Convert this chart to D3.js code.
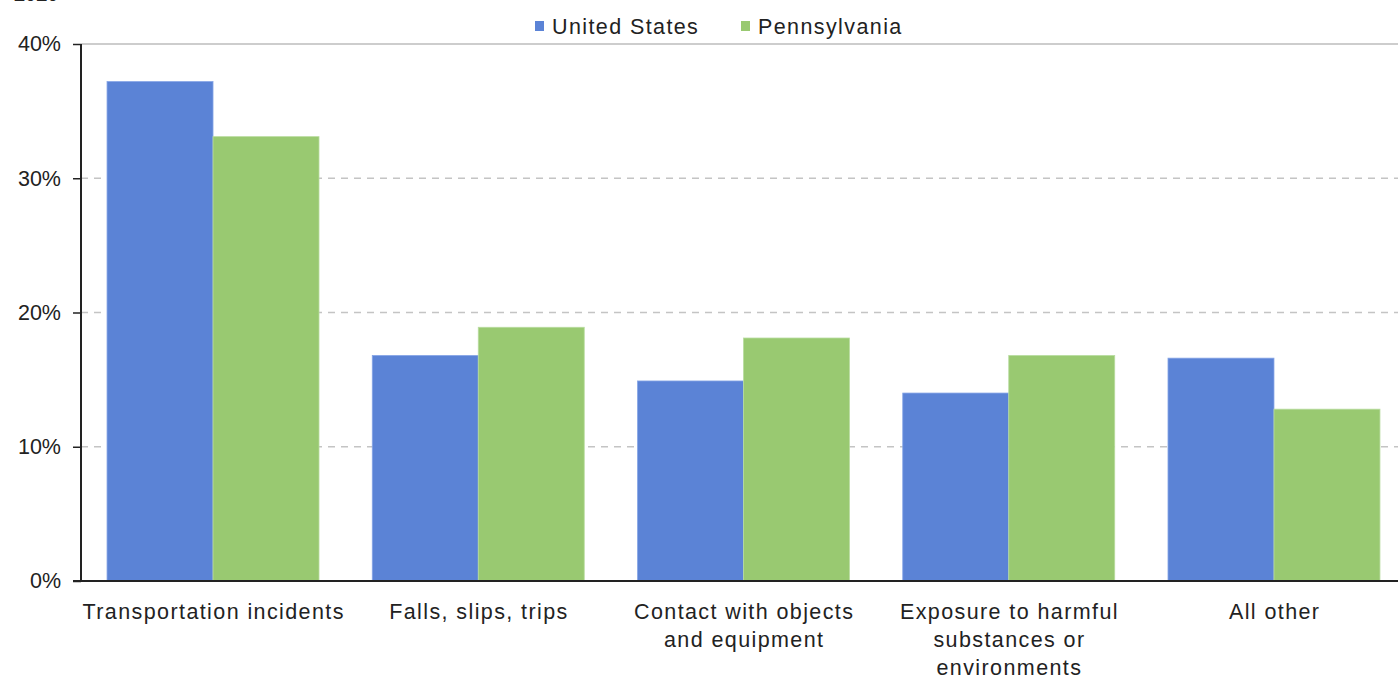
<!DOCTYPE html>
<html>
<head>
<meta charset="utf-8">
<script src="https://cdn.jsdelivr.net/npm/d3@7"></script>
<style>
html,body{margin:0;padding:0;background:#fff;overflow:hidden;}
text{font-family:"Liberation Sans",Arial,sans-serif;fill:#222;}
</style>
</head>
<body>
<svg id="chart" width="1398" height="677"></svg>
<script>
const categories = [
  ["Transportation incidents"],
  ["Falls, slips, trips"],
  ["Contact with objects", "and equipment"],
  ["Exposure to harmful", "substances or", "environments"],
  ["All other"]
];
const seriesNames = ["United States", "Pennsylvania"];
const usValues = [37.2, 16.8, 14.9, 14.0, 16.6];
const paValues = [33.1, 18.9, 18.1, 16.8, 12.8];
const yTicks = [0, 10, 20, 30, 40];
const colors = ["#5b83d6", "#99c971"];

const svg = d3.select("#chart");
const mLeft = 81, mTop = 44, mBottom = 581;
const bandStart = 80.4, bandEnd = 1406.6;
const fs = 21.5, ls = "1.4px";

// cut-off title remnant at top
svg.append("text").attr("x", 14).attr("y", 1).attr("font-size", 20).attr("font-weight", "bold").text("2020");

const x0 = d3.scaleBand().domain(d3.range(categories.length)).range([bandStart, bandEnd])
  .paddingInner(0.2008).paddingOuter(0.1004);
const x1 = d3.scaleBand().domain([0, 1]).range([0, x0.bandwidth()]);
const y = d3.scaleLinear().domain([0, 40]).range([mBottom, mTop]);

// gridlines
svg.append("g").selectAll("line").data(yTicks.filter(t => t > 0 && t < 40)).join("line")
  .attr("x1", mLeft).attr("x2", 1398).attr("y1", d => y(d)).attr("y2", d => y(d))
  .attr("stroke", "#c4c4c4").attr("stroke-width", 1.3).attr("stroke-dasharray", "7,6");
// top border
svg.append("line").attr("x1", mLeft).attr("x2", 1398).attr("y1", y(40)).attr("y2", y(40))
  .attr("stroke", "#bdbdbd").attr("stroke-width", 1.5);

// bars
const series = [usValues, paValues];
series.forEach((vals, si) => {
  svg.append("g").selectAll("rect").data(vals).join("rect")
    .attr("x", (d, i) => x0(i) + x1(si))
    .attr("width", x1.bandwidth())
    .attr("y", d => y(d))
    .attr("height", d => y(0) - y(d))
    .attr("fill", colors[si])
    .attr("stroke", si === 0 ? "#86a5e6" : "#b9dca0")
    .attr("stroke-width", 0.8);
});

// y axis
const yAxis = d3.axisLeft(y).tickValues(yTicks).tickFormat(d => d + "%").tickSize(8).tickPadding(12);
const ga = svg.append("g").attr("transform", `translate(${mLeft},0)`).call(yAxis);
ga.select(".domain").remove();
ga.selectAll(".tick line").attr("stroke", "#222").attr("stroke-width", 1.5);
ga.selectAll(".tick text").attr("font-size", fs).attr("fill", "#222")
  .style("font-family", '"Liberation Sans",Arial,sans-serif');
svg.append("line").attr("x1", mLeft).attr("x2", mLeft).attr("y1", mTop).attr("y2", mBottom + 1)
  .attr("stroke", "#222").attr("stroke-width", 2);
// x axis baseline
svg.append("line").attr("x1", mLeft - 8).attr("x2", 1398).attr("y1", mBottom).attr("y2", mBottom)
  .attr("stroke", "#222").attr("stroke-width", 2);

// category labels
const cl = svg.append("g");
categories.forEach((lines, i) => {
  const t = cl.append("text").attr("text-anchor", "middle").attr("font-size", fs).attr("letter-spacing", ls);
  lines.forEach((ln, j) => {
    t.append("tspan").attr("x", x0(i) + x0.bandwidth() / 2 + 0.7).attr("y", 619 + j * 28).text(ln);
  });
});

// legend
const legendX = [535, 741];
seriesNames.forEach((name, i) => {
  svg.append("rect").attr("x", legendX[i]).attr("y", 21).attr("width", 9).attr("height", 10).attr("fill", colors[i]);
  svg.append("text").attr("x", legendX[i] + 17).attr("y", 34).attr("font-size", fs).attr("letter-spacing", ls).text(name);
});
</script>
</body>
</html>
